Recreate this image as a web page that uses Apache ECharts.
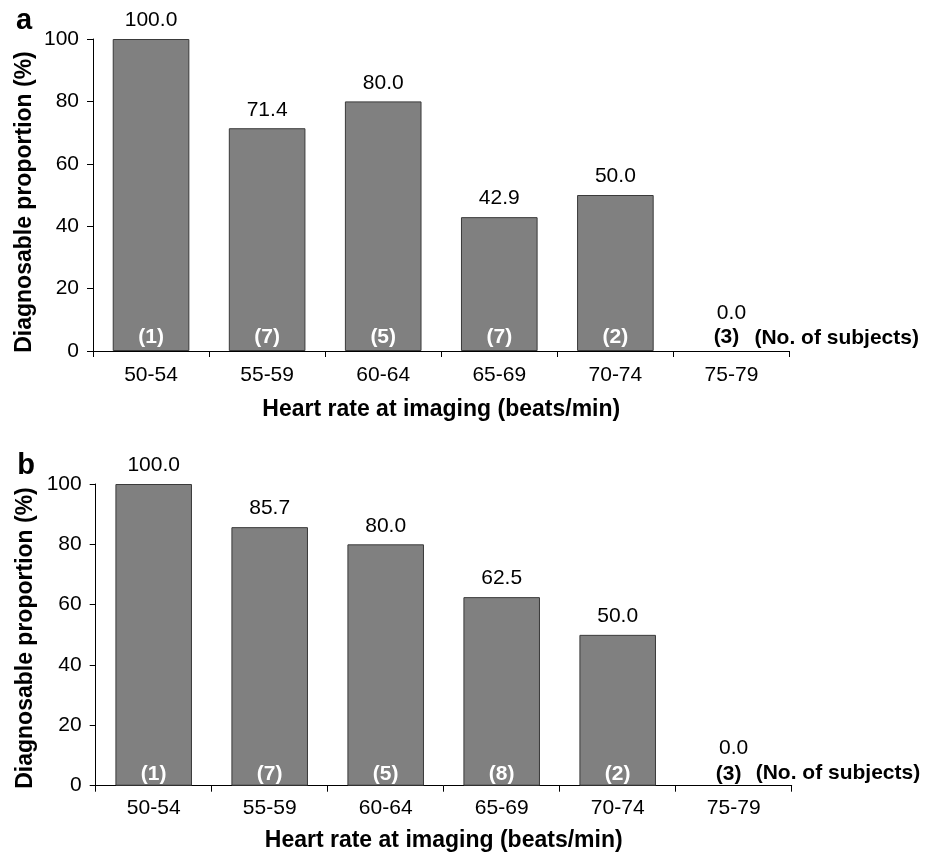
<!DOCTYPE html>
<html>
<head>
<meta charset="utf-8">
<script src="https://cdn.jsdelivr.net/npm/echarts@6/dist/echarts.min.js"></script>
<style>
html,body{margin:0;padding:0;background:#fff;}
#chart{width:936px;height:853px;}
</style>
</head>
<body>
<div id="chart"></div>
<script>
// ---- data ----
const categories = ['50-54', '55-59', '60-64', '65-69', '70-74', '75-79'];
const valuesA = [100.0, 71.4, 80.0, 42.9, 50.0, 0.0];
const countsA = [1, 7, 5, 7, 2, 3];
const valuesB = [100.0, 85.7, 80.0, 62.5, 50.0, 0.0];
const countsB = [1, 7, 5, 8, 2, 3];
const yMin = 0, yMax = 100, yStep = 20;
const panelLabels = ['a', 'b'];
const xTitle = 'Heart rate at imaging (beats/min)';
const yTitle = 'Diagnosable proportion (%)';
const countNote = '(No. of subjects)';

const FONT = '"Liberation Sans", Arial, Helvetica, sans-serif';
const chart = echarts.init(document.getElementById('chart'));

function xAxisCfg(gridIndex, gap, labelMargin) {
  return {
    type: 'category', gridIndex: gridIndex, data: categories,
    boundaryGap: true,
    axisLine: { show: true, lineStyle: { color: '#000', width: 1 } },
    axisTick: { show: true, length: 6, interval: 0, alignWithLabel: false, lineStyle: { color: '#000' } },
    axisLabel: { interval: 0, margin: labelMargin, color: '#000', fontSize: 21, fontFamily: FONT },
    splitLine: { show: false },
    name: xTitle, nameLocation: 'middle', nameGap: gap,
    nameTextStyle: { color: '#000', fontSize: 23, fontWeight: 'bold', fontFamily: FONT }
  };
}
function yAxisCfg(gridIndex) {
  return {
    type: 'value', gridIndex: gridIndex, min: yMin, max: yMax, interval: yStep,
    axisLine: { show: true, lineStyle: { color: '#000', width: 1 } },
    axisTick: { show: true, length: 6, inside: false, lineStyle: { color: '#000' } },
    axisLabel: { margin: 14, color: '#000', fontSize: 21, fontFamily: FONT },
    splitLine: { show: false }
  };
}
function valueSeries(idx, values) {
  return {
    type: 'bar', xAxisIndex: idx, yAxisIndex: idx,
    barCategoryGap: '34%', barGap: '-100%',
    itemStyle: { color: '#808080', borderColor: '#3a3a3a', borderWidth: 1 },
    label: {
      show: true, position: 'top', distance: 8, color: '#000', fontSize: 21, fontFamily: FONT,
      formatter: p => p.value.toFixed(1)
    },
    data: values.map(v => v === 0
      ? { value: v, itemStyle: { borderWidth: 0, color: 'rgba(0,0,0,0)' }, label: { offset: [0, -19] } }
      : v),
    silent: true, animation: false
  };
}
function countSeries(idx, values, counts, dist) {
  return {
    type: 'bar', xAxisIndex: idx, yAxisIndex: idx,
    barCategoryGap: '34%', barGap: '-100%', z: 5,
    itemStyle: { color: 'rgba(0,0,0,0)', borderWidth: 0 },
    label: {
      show: true, position: 'insideBottom', distance: dist, color: '#fff', fontSize: 21,
      fontWeight: 'bold', fontFamily: FONT,
      formatter: p => '(' + counts[p.dataIndex] + ')'
    },
    data: values.map(v => v === 0 ? { value: v, label: { color: '#000', offset: [-5, 0] } } : v),
    silent: true, animation: false
  };
}

chart.setOption({
  animation: false,
  grid: [
    { left: 93, top: 39, width: 696.5, height: 312 },
    { left: 95.7, top: 484, width: 696, height: 301.7 }
  ],
  xAxis: [xAxisCfg(0, 47, 14), xAxisCfg(1, 43, 12)],
  yAxis: [yAxisCfg(0), yAxisCfg(1)],
  series: [
    valueSeries(0, valuesA), countSeries(0, valuesA, countsA, 3),
    valueSeries(1, valuesB), countSeries(1, valuesB, countsB, 1)
  ]
});

// annotations placed relative to the last category via the library's scales
const last = categories.length - 1;
const pA = chart.convertToPixel({ gridIndex: 0 }, [last, 0]);
const pB = chart.convertToPixel({ gridIndex: 1 }, [last, 0]);
const titleStyle = { text: yTitle, fontSize: 23, fontWeight: 'bold', fontFamily: FONT, fill: '#000', align: 'center', verticalAlign: 'middle' };
chart.setOption({
  graphic: [
    { type: 'text', x: 24, y: 21, style: { text: panelLabels[0], fontSize: 29, fontWeight: 'bold', fontFamily: FONT, fill: '#000', align: 'center', verticalAlign: 'middle' } },
    { type: 'text', x: 26, y: 466, style: { text: panelLabels[1], fontSize: 29, fontWeight: 'bold', fontFamily: FONT, fill: '#000', align: 'center', verticalAlign: 'middle' } },
    { type: 'text', x: 25, y: 202, rotation: Math.PI / 2, style: titleStyle },
    { type: 'text', x: 26, y: 638, rotation: Math.PI / 2, style: titleStyle },
    { type: 'text', x: pA[0] + 23, y: pA[1] - 13, style: { text: countNote, fontSize: 21, fontWeight: 'bold', fontFamily: FONT, fill: '#000', align: 'left', verticalAlign: 'middle' } },
    { type: 'text', x: pB[0] + 22, y: pB[1] - 12, style: { text: countNote, fontSize: 21, fontWeight: 'bold', fontFamily: FONT, fill: '#000', align: 'left', verticalAlign: 'middle' } }
  ]
});
</script>
</body>
</html>
